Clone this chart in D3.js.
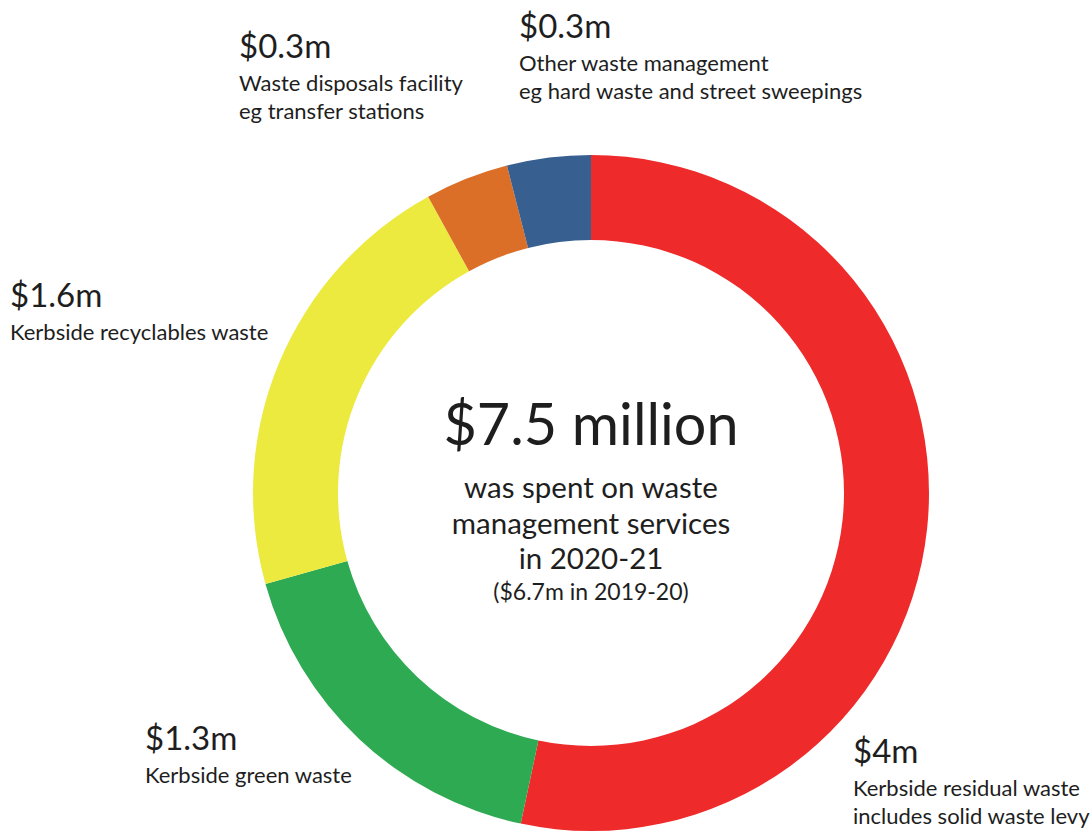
<!DOCTYPE html>
<html>
<head>
<meta charset="utf-8">
<script src="https://cdn.jsdelivr.net/npm/d3@7"></script>
<style>
  html, body { margin: 0; padding: 0; background: #ffffff; }
  svg { display: block; }
  text { font-family: Lato, "Open Sans", sans-serif; fill: #1e1e1e; }
</style>
</head>
<body>
<svg id="chart" width="1092" height="833"></svg>
<script>
// Waste management spending 2020-21, $ million
const categories = [
  "Kerbside residual waste",
  "Kerbside green waste",
  "Kerbside recyclables waste",
  "Waste disposals facility",
  "Other waste management"
];
const values = [4, 1.3, 1.6, 0.3, 0.3];
const amountLabels = ["$4m", "$1.3m", "$1.6m", "$0.3m", "$0.3m"];
const detailLines = [
  ["Kerbside residual waste", "includes solid waste levy"],
  ["Kerbside green waste"],
  ["Kerbside recyclables waste"],
  ["Waste disposals facility", "eg transfer stations"],
  ["Other waste management", "eg hard waste and street sweepings"]
];
const colors = ["#ee2a2a", "#2eaa52", "#ece93f", "#dc6f27", "#375f90"];

const totalLabel = "$7.5 million";
const centreLines = ["was spent on waste", "management services", "in 2020-21"];
const priorYearLabel = "($6.7m in 2019-20)";

// Layout
const cx = 591, cy = 493, outerR = 338, innerR = 253;
const labelAnchors = [
  [853, 763], [145, 750], [10, 307], [239, 58], [519, 38]
];

const svg = d3.select("#chart");

const pie = d3.pie().value(d => d).sort(null).startAngle(0).endAngle(2 * Math.PI);
const arc = d3.arc().innerRadius(innerR).outerRadius(outerR);
const color = d3.scaleOrdinal().domain(categories).range(colors);

const ring = svg.append("g").attr("transform", `translate(${cx},${cy})`);
ring.selectAll("path")
  .data(pie(values))
  .join("path")
  .attr("d", arc)
  .attr("fill", (d, i) => color(categories[i]));

// Segment labels: amount on top, description lines beneath
const labels = svg.selectAll("g.seg-label")
  .data(categories)
  .join("g")
  .attr("class", "seg-label")
  .attr("transform", (d, i) => `translate(${labelAnchors[i][0]},${labelAnchors[i][1]})`);

labels.append("text")
  .attr("font-size", 33)
  .text((d, i) => amountLabels[i]);

labels.each(function (d, i) {
  d3.select(this).selectAll("text.detail")
    .data(detailLines[i])
    .join("text")
    .attr("class", "detail")
    .attr("font-size", 22)
    .attr("y", (t, j) => 32.5 + j * 28.5)
    .text(t => t);
});

// Centre caption
const centre = svg.append("g").attr("transform", `translate(${cx},0)`);
centre.append("text")
  .attr("text-anchor", "middle")
  .attr("y", 445)
  .attr("font-size", 57.5)
  .text(totalLabel);
centre.selectAll("text.line")
  .data(centreLines)
  .join("text")
  .attr("class", "line")
  .attr("text-anchor", "middle")
  .attr("y", (d, i) => 498 + i * 35.5)
  .attr("font-size", 29.5)
  .text(d => d);
centre.append("text")
  .attr("text-anchor", "middle")
  .attr("y", 600)
  .attr("font-size", 23)
  .text(priorYearLabel);
</script>
</body>
</html>
